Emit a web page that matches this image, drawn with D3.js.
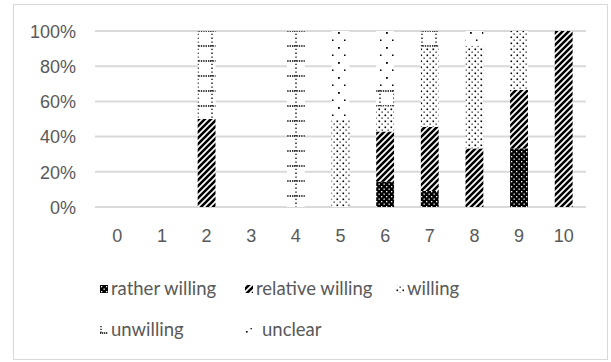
<!DOCTYPE html>
<html><head><meta charset="utf-8">
<script src="https://cdn.jsdelivr.net/npm/d3@7"></script>
<style>
html,body{margin:0;padding:0;background:#fff;}
svg{display:block;font-family:Lato,"Open Sans",sans-serif;}
</style></head>
<body>
<svg id="chart" width="611" height="362"></svg>
<script>
const categories = ["0","1","2","3","4","5","6","7","8","9","10"];
const seriesNames = ["rather willing","relative willing","willing","unwilling","unclear"];
const ratherWilling   = [0,0,0,0,0,0,14.3,9.1,0,33.3,0];
const relativeWilling = [0,0,50,0,0,0,28.6,36.4,33.3,33.3,100];
const willing         = [0,0,0,0,0,50,14.3,45.5,58.4,33.4,0];
const unwilling       = [0,0,50,0,100,0,9.5,9.0,0,0,0];
const unclear         = [0,0,0,0,0,50,33.3,0,8.3,0,0];
const yTicks = [0,20,40,60,80,100];

const seriesValues = [ratherWilling, relativeWilling, willing, unwilling, unclear];
const table = categories.map((c,i)=>{
  const o = {cat:c};
  seriesNames.forEach((s,j)=>o[s]=seriesValues[j][i]);
  return o;
});

const svg = d3.select("#chart");
const defs = svg.append("defs");

const pats = {};
function pat(id,w,h,build){
  const p = defs.append("pattern").attr("id",id).attr("patternUnits","userSpaceOnUse")
    .attr("width",w).attr("height",h);
  build(p); pats[id]="url(#"+id+")";
}
pat("p0",5,5,p=>{
  p.append("rect").attr("width",5).attr("height",5).attr("fill","#000");
  p.append("rect").attr("x",1).attr("y",1).attr("width",1.3).attr("height",1.3).attr("fill","#fff");
  p.append("rect").attr("x",3.5).attr("y",3.5).attr("width",1.3).attr("height",1.3).attr("fill","#fff");
});
pat("p1",6,6,p=>{
  p.append("rect").attr("width",6).attr("height",6).attr("fill","#fff");
  p.append("path").attr("d","M-1,7 L7,-1 M-4,4 L4,-4 M2,10 L10,2").attr("stroke","#000").attr("stroke-width",2.6);
});
pat("p2",6,6,p=>{
  p.append("rect").attr("width",6).attr("height",6).attr("fill","#fff");
  p.append("rect").attr("x",0.5).attr("y",0.5).attr("width",1.6).attr("height",1.6).attr("fill","#000");
  p.append("rect").attr("x",3.5).attr("y",3.5).attr("width",1.3).attr("height",1.3).attr("fill","#222");
});
pat("p3",14,15,p=>{
  p.append("rect").attr("width",14).attr("height",15).attr("fill","#fff");
  p.append("line").attr("x1",0).attr("x2",14).attr("y1",1).attr("y2",1).attr("stroke","#000").attr("stroke-width",1.4).attr("stroke-dasharray","1.4,1");
  p.append("line").attr("x1",2).attr("x2",2).attr("y1",0).attr("y2",15).attr("stroke","#000").attr("stroke-width",1.3).attr("stroke-dasharray","1.3,2.5");
});
pat("p4",12,15,p=>{
  p.append("rect").attr("width",12).attr("height",15).attr("fill","#fff");
  p.append("rect").attr("x",2).attr("y",2).attr("width",1.8).attr("height",1.8).attr("fill","#000");
  p.append("rect").attr("x",8).attr("y",9.5).attr("width",1.5).attr("height",1.5).attr("fill","#000");
});
// legend-sized versions for the sparse patterns (objectBoundingBox)
function lpat(id,build){
  const p = defs.append("pattern").attr("id",id).attr("patternUnits","objectBoundingBox")
    .attr("patternContentUnits","userSpaceOnUse").attr("width",1).attr("height",1);
  build(p); pats[id]="url(#"+id+")";
}
lpat("l3",p=>{
  p.append("rect").attr("width",8).attr("height",8).attr("fill","#fff");
  p.append("line").attr("x1",0).attr("x2",8).attr("y1",7).attr("y2",7).attr("stroke","#000").attr("stroke-width",1.3).attr("stroke-dasharray","1.3,0.7");
  p.append("line").attr("x1",1).attr("x2",1).attr("y1",0).attr("y2",7).attr("stroke","#000").attr("stroke-width",1.2).attr("stroke-dasharray","1.2,1.6");
});
lpat("l4",p=>{
  p.append("rect").attr("width",8).attr("height",8).attr("fill","#fff");
  p.append("rect").attr("x",1).attr("y",5).attr("width",1.6).attr("height",1.6).attr("fill","#000");
  p.append("rect").attr("x",5.5).attr("y",2).attr("width",1.3).attr("height",1.3).attr("fill","#000");
});
const fills = [pats.p0,pats.p1,pats.p2,pats.p3,pats.p4];
const legendFills = [pats.p0,pats.p1,pats.p2,pats.l3,pats.l4];

svg.append("rect").attr("x",13.5).attr("y",4.5).attr("width",594).attr("height",355)
  .attr("fill","#fff").attr("stroke","#d9d9d9").attr("stroke-width",1);

const x = d3.scaleBand().domain(categories).range([95,586]).paddingInner(0.6).paddingOuter(0.3);
const y = d3.scaleLinear().domain([0,100]).range([207,31]);

svg.append("g").selectAll("line").data(yTicks).join("line")
  .attr("x1",95).attr("x2",586).attr("y1",d=>y(d)).attr("y2",d=>y(d))
  .attr("stroke","#d9d9d9").attr("stroke-width",2);

const yAxis = d3.axisLeft(y).tickValues(yTicks).tickFormat(d=>d+"%").tickSize(0).tickPadding(0);
const yg = svg.append("g").attr("transform","translate(76,0)").call(yAxis);
yg.select(".domain").remove();
yg.selectAll("text").attr("fill","#595959").style("font-size","18px").attr("dy","0.35em");

const stack = d3.stack().keys(seriesNames);
const stacked = stack(table);
svg.append("g").selectAll("g").data(stacked).join("g")
  .attr("fill",(d,i)=>fills[i])
  .selectAll("rect").data(d=>d.filter(s=>s[1]-s[0]>0)).join("rect")
  .attr("x",d=>x(d.data.cat)).attr("width",x.bandwidth())
  .attr("y",d=>y(d[1])).attr("height",d=>y(d[0])-y(d[1]));

const xAxis = d3.axisBottom(x).tickSize(0).tickPadding(0);
const xg = svg.append("g").attr("transform","translate(0,229)").call(xAxis);
xg.select(".domain").remove();
xg.selectAll("text").attr("fill","#595959").style("font-size","18px").attr("dy","0.71em");

const legendPos = [[100,295],[245,295],[396,295],[100,336],[245,336]];
const leg = svg.append("g").selectAll("g").data(seriesNames).join("g")
  .attr("transform",(d,i)=>`translate(${legendPos[i][0]},${legendPos[i][1]})`);
leg.append("rect").attr("x",0).attr("y",-10).attr("width",8).attr("height",8).attr("fill",(d,i)=>legendFills[i]);
leg.append("text").attr("x",(d,i)=>i===4?17:11).attr("y",0).attr("fill","#595959").style("font-size","18.5px").text(d=>d);
</script>
</body></html>
